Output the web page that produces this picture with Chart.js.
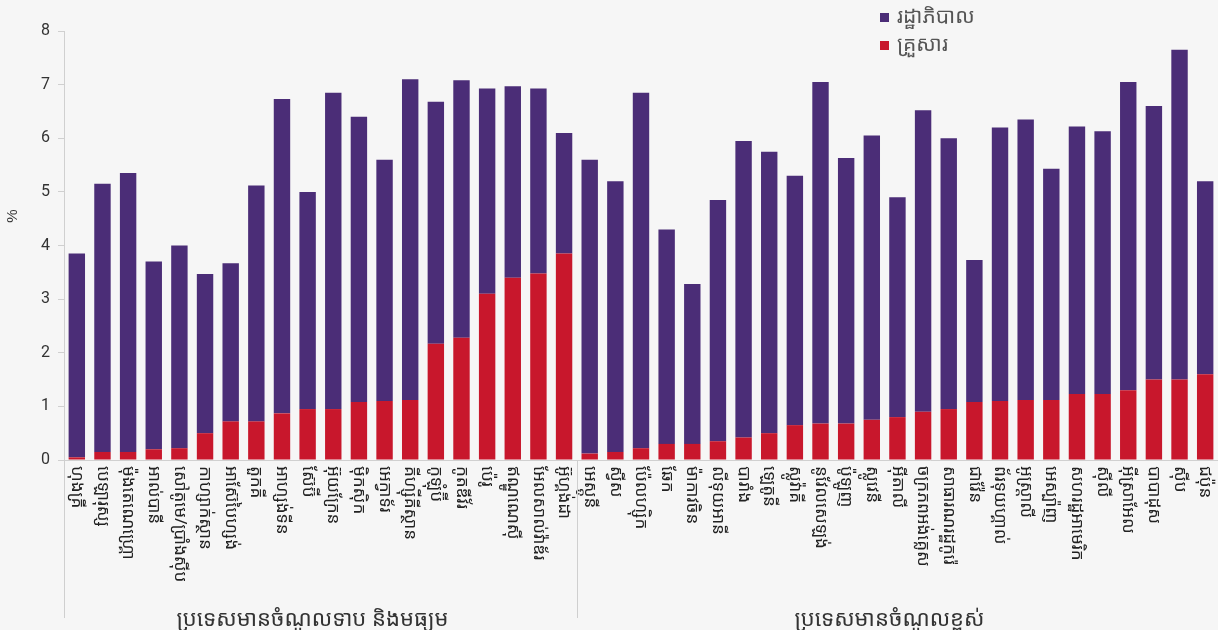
<!DOCTYPE html>
<html>
<head>
<meta charset="utf-8">
<script src="https://cdn.jsdelivr.net/npm/chart.js@4"></script>
<style>
    body { margin: 0; background: #f6f6f6; }
    #wrap { position: relative; width: 1218px; height: 630px; }
    .legend { position: absolute; left: 880px; font-family: 'Noto Sans Khmer', 'Khmer OS', 'Noto Sans', sans-serif; font-size: 21px; color: #555; }
    .legend span { display: inline-block; width: 9px; height: 9px; margin-right: 8px; vertical-align: middle; }
</style>
</head>
<body>
<div id="wrap">
    <canvas id="chart" width="1218" height="630"></canvas>
    <div class="legend" style="top:1px"><span style="background:#4b2d77"></span>រដ្ឋាភិបាល</div>
    <div class="legend" style="top:29px"><span style="background:#c8172c"></span>គ្រួសារ</div>
</div>
<script>
const countries = [
    'ហុងគ្រី', 'បេឡារុស្ស', 'ម៉ុងតេណេហ្គ្រោ', 'អាល់បានី', 'សៅតូមេ/ប្រាំងស៊ីប', 'កាហ្សាក់ស្ថាន',
    'អាស៊ែបៃហ្សង់', 'តួកគី', 'អាហ្សង់ទីន', 'ស៊ែប៊ី', 'អ៊ុយក្រែន', 'ម៉ិកស៊ិក', 'អេក្វាទ័រ',
    'គីហ្ស៊ីគីស្ថាន', 'កូឡុំប៊ី', 'កូតឌីវ័រ', 'ប៉េរូ', 'ឥណ្ឌូណេស៊ី', 'អែលសាល់វ៉ាឌ័រ', 'អ៊ូហ្គង់ដា',
    'អេស្តូនី', 'ស្វីស', 'ប៉ែលហ្ស៊ិក', 'ឆែក', 'ម៉ាកាវចិន', 'លីទុយអានី', 'បារាំង', 'ឡេតូនី',
    'ស្លូវ៉ាគី', 'នូវែលសេឡង់', 'ប៉ូឡូញ', 'ស្លូវេនី', 'អ៊ីតាលី', 'ចក្រភពអង់គ្លេស', 'សាធារណរដ្ឋកូរ៉េ',
    'ជាវ៉ែន', 'ព័រទុយហ្គាល់', 'អូស្ត្រាលី', 'អេស្ប៉ាញ', 'សហរដ្ឋអាមេរិក', 'ស៊ីលី', 'អ៊ីស្រាអែល',
    'បាបាដុស', 'ស៊ីប', 'ជប៉ុន'
];
// រដ្ឋាភិបាល (government share)
const government = [
    3.80, 5.00, 5.20, 3.50, 3.78, 2.97, 2.95, 4.40, 5.86, 4.05, 5.90, 5.32, 4.50, 5.98, 4.51,
    4.80, 3.83, 3.57, 3.45, 2.25,
    5.48, 5.05, 6.63, 4.00, 2.98, 4.50, 5.53, 5.25, 4.65, 6.37, 4.95, 5.30, 4.10, 5.62, 5.05,
    2.65, 5.10, 5.23, 4.31, 4.99, 4.90, 5.75, 5.10, 6.15, 3.60
];
// គ្រួសារ (household share)
const household = [
    0.05, 0.15, 0.15, 0.20, 0.22, 0.50, 0.72, 0.72, 0.87, 0.95, 0.95, 1.08, 1.10, 1.12, 2.17,
    2.28, 3.10, 3.40, 3.48, 3.85,
    0.12, 0.15, 0.22, 0.30, 0.30, 0.35, 0.42, 0.50, 0.65, 0.68, 0.68, 0.75, 0.80, 0.90, 0.95,
    1.08, 1.10, 1.12, 1.12, 1.23, 1.23, 1.30, 1.50, 1.50, 1.60
];
const groupNames = ['ប្រទេសមានចំណូលទាប និងមធ្យម', 'ប្រទេសមានចំណូលខ្ពស់'];
const groupSizes = [20, 25];
const yTicks = [0, 1, 2, 3, 4, 5, 6, 7, 8];

const khmerFont = "'Noto Sans Khmer', 'Khmer OS', 'Noto Sans', sans-serif";

const groupLabels = {
    id: 'groupLabels',
    afterDraw(chart) {
        const ctx = chart.ctx;
        const x = chart.scales.x;
        const step = x.getPixelForTick(1) - x.getPixelForTick(0);
        ctx.save();
        // y axis unit, set a bit above the middle like the original
        ctx.fillStyle = '#333';
        ctx.font = "15px 'Liberation Sans Narrow', sans-serif";
        ctx.textAlign = 'center';
        ctx.textBaseline = 'middle';
        ctx.save();
        ctx.translate(13, chart.scales.y.getPixelForValue(4.55));
        ctx.rotate(-Math.PI / 2);
        ctx.fillText('%', 0, 0);
        ctx.restore();
        // country names, rotated to read downwards
        ctx.fillStyle = '#222';
        ctx.font = '17px ' + khmerFont;
        ctx.textAlign = 'left';
        countries.forEach((name, i) => {
            ctx.save();
            ctx.translate(x.getPixelForTick(i), x.top + 6);
            ctx.rotate(Math.PI / 2);
            ctx.fillText(name, 0, 0);
            ctx.restore();
        });
        // group dividers and names
        ctx.strokeStyle = '#cfcfcf';
        ctx.lineWidth = 1;
        let start = 0;
        ctx.font = '22px ' + khmerFont;
        ctx.textAlign = 'center';
        ctx.textBaseline = 'alphabetic';
        groupSizes.forEach((n, g) => {
            const left = x.getPixelForTick(start) - step / 2;
            const right = x.getPixelForTick(start + n - 1) + step / 2;
            ctx.beginPath();
            ctx.moveTo(Math.round(left) + 0.5, x.top);
            ctx.lineTo(Math.round(left) + 0.5, 618);
            ctx.stroke();
            ctx.fillStyle = '#333';
            ctx.fillText(groupNames[g], (left + right) / 2 - 8, 626);
            start += n;
        });
        ctx.restore();
    }
};

new Chart(document.getElementById('chart'), {
    type: 'bar',
    data: {
        labels: countries,
        datasets: [{
            label: 'គ្រួសារ',
            data: household,
            backgroundColor: '#c8172c',
            barPercentage: 0.8,
            categoryPercentage: 0.8
        }, {
            label: 'រដ្ឋាភិបាល',
            data: government,
            backgroundColor: '#4b2d77',
            barPercentage: 0.8,
            categoryPercentage: 0.8
        }]
    },
    options: {
        responsive: false,
        animation: false,
        layout: { padding: { top: 31, right: 0, left: 0, bottom: 0 } },
        plugins: {
            legend: { display: false },
            tooltip: { enabled: false }
        },
        scales: {
            x: {
                stacked: true,
                afterFit: s => { s.height = 170; },
                border: { color: '#d0d0d0' },
                grid: { display: false },
                ticks: { display: false }
            },
            y: {
                stacked: true,
                min: 0,
                max: 8,
                afterFit: s => { s.width = 64; },
                afterBuildTicks: s => { s.ticks = yTicks.map(v => ({ value: v })); },
                border: { color: '#d0d0d0' },
                grid: { drawOnChartArea: false, color: '#d0d0d0', tickLength: 6 },
                ticks: {
                    color: '#333',
                    font: { family: "'Liberation Sans Narrow', 'Roboto', sans-serif", size: 16 },
                    padding: 8
                }
            }
        }
    },
    plugins: [groupLabels]
});
</script>
</body>
</html>
